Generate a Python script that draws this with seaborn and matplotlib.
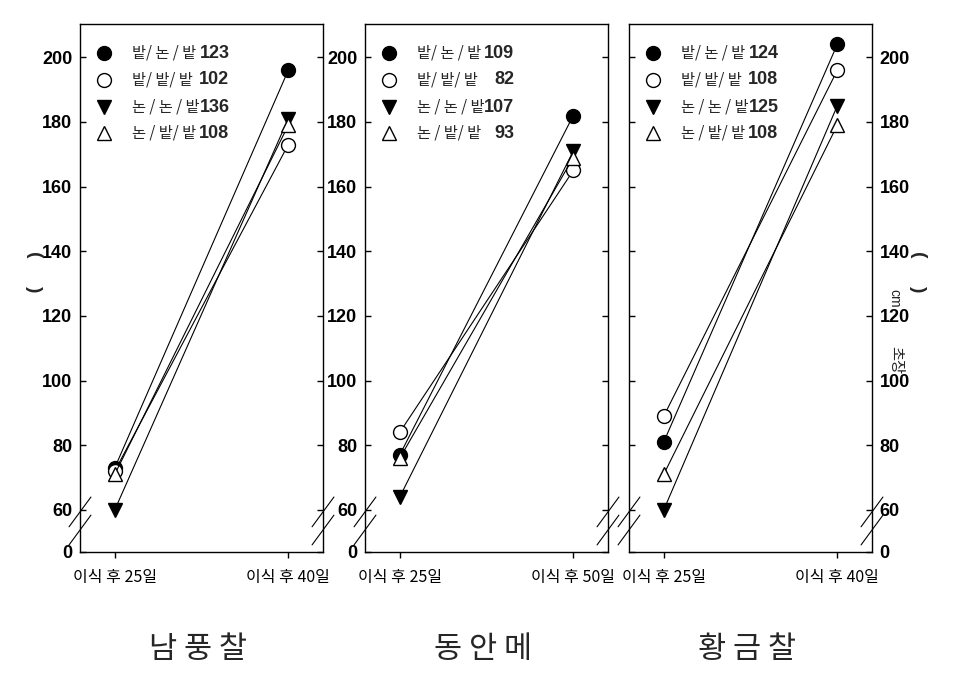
import numpy as np
import pandas as pd
import matplotlib
matplotlib.use("Agg")
import matplotlib.pyplot as plt
import matplotlib.transforms as mtransforms
import seaborn as sns

# ---------------- data ----------------
varieties = ["남 풍 찰", "동 안 메", "황 금 찰"]
day_labels = [["이식 후 25일", "이식 후 40일"],
              ["이식 후 25일", "이식 후 50일"],
              ["이식 후 25일", "이식 후 40일"]]
series_names = ["밭/ 논 / 밭", "밭/ 밭/ 밭", "논 / 논 / 밭", "논 / 밭/ 밭"]
legend_numbers = [["123", "102", "136", "108"],
                  ["109", "82", "107", "93"],
                  ["124", "108", "125", "108"]]
# plant height (cm) at the two dates, per series, per variety
nampung = [[73, 196], [72, 173], [60, 181], [71, 179]]
dongan = [[77, 182], [84, 165], [64, 171], [76, 169]]
hwanggeum = [[81, 204], [89, 196], [60, 185], [71, 179]]
values = [nampung, dongan, hwanggeum]
ytick_vals = [60, 80, 100, 120, 140, 160, 180, 200]
ytick_labels = ["60", "80", "100", "120", "140", "160", "180", "200"]

# ---------------- style ----------------
sns.set_theme(style="ticks")
plt.rcParams["font.family"] = ["Liberation Sans Narrow", "Liberation Sans", "Noto Sans CJK KR"]
KR = ["Noto Sans CJK KR", "DejaVu Sans"]
NUM = ["Liberation Sans Narrow", "Liberation Sans", "DejaVu Sans"]

markers = ["o", "o", "v", "^"]
faces = ["black", "white", "black", "white"]

fig = plt.figure(figsize=(9.72, 6.86), dpi=100)
lefts = [80 / 972, 365 / 972, 629 / 972]
bottom = 1 - 552 / 686
height = 528 / 686
width = 243 / 972
ylo, yhi = 47.0, 210.3

for p in range(3):
    ax = fig.add_axes([lefts[p], bottom, width, height])
    for s in range(4):
        df = pd.DataFrame({"x": [0, 1], "y": values[p][s]})
        sns.lineplot(data=df, x="x", y="y", ax=ax, color="black", lw=0.8,
                     marker=markers[s], markersize=10, markerfacecolor=faces[s],
                     markeredgecolor="black", markeredgewidth=1.0, zorder=3 + s)
    ax.set_xlim(-0.2, 1.2)
    ax.set_ylim(ylo, yhi)
    ax.set_xlabel("")
    ax.set_ylabel("")
    ax.set_xticks([0, 1])
    ax.set_xticklabels(day_labels[p], fontfamily=KR, fontsize=11.5)
    ax.set_yticks([ylo] + ytick_vals)
    ax.set_yticklabels(["0"] + ytick_labels, fontfamily=NUM, fontsize=13, fontweight="bold")
    for sp in ax.spines.values():
        sp.set_visible(True)
        sp.set_color("black")
        sp.set_linewidth(1.0)
    ax.tick_params(axis="x", direction="out", length=4.5, width=1, pad=8, colors="black")
    ax.tick_params(axis="y", direction="in", length=4.5, width=1, pad=5.5,
                   left=True, right=True,
                   labelleft=(p < 2), labelright=(p == 2), colors="black")
    ax.grid(False)

    # axis break marks
    tr = mtransforms.blended_transform_factory(ax.transAxes, ax.transData)
    for xa in (0, 1):
        for yc in (59.4, 53.8):
            ax.plot([xa - 0.045, xa + 0.045], [yc - 4.6, yc + 4.6], transform=tr,
                    color="black", lw=0.8, clip_on=False)

    # legend
    rows = [0.945, 0.894, 0.842, 0.793]
    for s in range(4):
        ax.plot([0.10], [rows[s]], transform=ax.transAxes, marker=markers[s],
                markersize=10, markerfacecolor=faces[s], markeredgecolor="black",
                markeredgewidth=1.0, linestyle="none", clip_on=False)
        ax.text(0.212, rows[s], series_names[s], transform=ax.transAxes,
                ha="left", va="center", fontfamily=KR, fontsize=11)
        ax.text(0.615, rows[s], legend_numbers[p][s], transform=ax.transAxes,
                ha="right", va="center", fontfamily=NUM, fontsize=13, fontweight="bold")

    # variety title under panel
    fig.text(lefts[p] + width / 2 - 0.004, 1 - 650 / 686, varieties[p],
             ha="center", va="center", fontfamily=KR, fontsize=22)

# y-axis label fragments
for xpx in (33, 917):
    fig.text(xpx / 972, 1 - 255 / 686, "(", rotation=270, ha="center", va="center",
             fontsize=14, fontweight="bold", fontfamily=NUM)
    fig.text(xpx / 972, 1 - 289 / 686, ")", rotation=270, ha="center", va="center",
             fontsize=14, fontweight="bold", fontfamily=NUM)
fig.text(894 / 972, 1 - 298 / 686, "cm", rotation=270, ha="center", va="center",
         fontsize=10, fontfamily=NUM)
fig.text(896 / 972, 1 - 360 / 686, "초장", rotation=270, ha="center", va="center",
         fontsize=11, fontfamily=KR)

fig.savefig("out.png", dpi=100)
